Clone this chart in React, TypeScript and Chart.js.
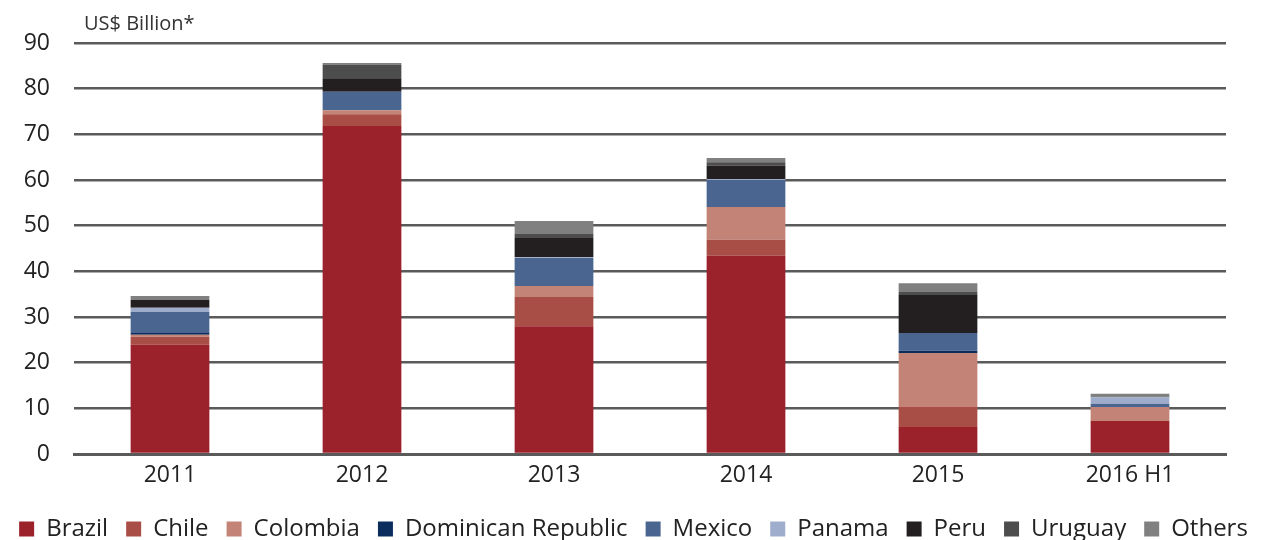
import React, { useEffect, useRef } from "react";
import { Chart, registerables } from "chart.js";

Chart.register(...registerables);

const years = ["2011", "2012", "2013", "2014", "2015", "2016 H1"];

const brazil = [23.9, 71.8, 28.0, 43.4, 5.9, 7.2];
const chile = [1.8, 2.6, 6.4, 3.5, 4.4, 0];
const colombia = [0.4, 0.9, 2.4, 7.2, 11.8, 3.1];
const dominicanRepublic = [0.4, 0, 0, 0, 0.5, 0];
const mexico = [4.6, 4.0, 6.1, 5.9, 3.9, 0.7];
const panama = [0.9, 0, 0.2, 0.2, 0, 1.4];
const peru = [1.7, 3.0, 4.2, 2.9, 8.3, 0];
const uruguay = [0, 3.0, 0.9, 0.8, 0.7, 0.2];
const others = [0.9, 0.3, 2.8, 0.9, 1.9, 0.6];

const seriesNames = [
  "Brazil",
  "Chile",
  "Colombia",
  "Dominican Republic",
  "Mexico",
  "Panama",
  "Peru",
  "Uruguay",
  "Others",
];
const seriesColors = [
  "#9b212b",
  "#a84e46",
  "#c38377",
  "#0a2d5e",
  "#4a6690",
  "#9fadcc",
  "#231f20",
  "#4d4d4d",
  "#808080",
];
const seriesValues = [
  brazil,
  chile,
  colombia,
  dominicanRepublic,
  mexico,
  panama,
  peru,
  uruguay,
  others,
];

const FONT = "'Open Sans', sans-serif";

// unit label above the y axis
const unitLabel = {
  id: "unitLabel",
  afterDraw(chart: any) {
    const { ctx, chartArea } = chart;
    ctx.save();
    ctx.font = `20px ${FONT}`;
    ctx.fillStyle = "#333";
    ctx.textBaseline = "alphabetic";
    ctx.fillText("US$ Billion*", chartArea.left + 10, chartArea.top - 13);
    ctx.restore();
  },
};

const App: React.FC = () => {
  const canvasRef = useRef<HTMLCanvasElement | null>(null);

  useEffect(() => {
    if (!canvasRef.current) return;
    const chart = new Chart(canvasRef.current, {
      type: "bar",
      data: {
        labels: years,
        datasets: seriesNames.map((name, i) => ({
          label: name,
          data: seriesValues[i],
          backgroundColor: seriesColors[i],
          borderWidth: 0,
          barPercentage: 0.82,
          categoryPercentage: 0.5,
        })),
      },
      options: {
        animation: false,
        responsive: true,
        maintainAspectRatio: false,
        layout: { padding: { top: 43, left: 0, right: 0, bottom: -11 } },
        plugins: {
          legend: {
            position: "bottom",
            labels: {
              boxWidth: 15,
              boxHeight: 15,
              padding: 18,
              color: "#222",
              font: { family: FONT, size: 24 },
            },
          },
          tooltip: { enabled: false },
        },
        scales: {
          x: {
            stacked: true,
            grid: { display: false },
            border: { display: true, color: "#5a5a5a", width: 3 },
            ticks: {
              color: "#222",
              padding: 0,
              font: { family: FONT, size: 23 },
            },
            afterFit: (scale: any) => {
              scale.height = 45;
            },
          },
          y: {
            stacked: true,
            min: 0,
            max: 90,
            grid: { color: "#5a5a5a", lineWidth: 2.5, drawTicks: false },
            border: { display: false },
            ticks: {
              stepSize: 10,
              color: "#222",
              padding: 24,
              font: { family: FONT, size: 23 },
            },
            afterFit: (scale: any) => {
              scale.width = 74;
            },
          },
          // empty right-hand axis that keeps a margin right of the plot
          yRight: {
            position: "right",
            min: 0,
            max: 90,
            grid: { display: false },
            border: { display: false },
            ticks: { display: false },
            afterFit: (scale: any) => {
              scale.width = 41;
            },
          },
        },
      },
      plugins: [unitLabel],
    });
    return () => chart.destroy();
  }, []);

  return (
    <div
      style={{
        position: "absolute",
        left: 0,
        top: 0,
        width: 1267,
        height: 540,
        background: "#fff",
      }}
    >
      <canvas ref={canvasRef} />
    </div>
  );
};

export default App;
